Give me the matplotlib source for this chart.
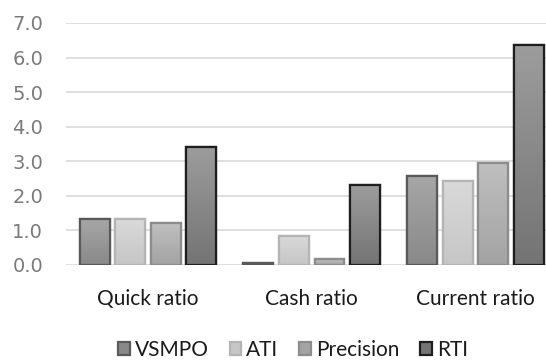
import matplotlib.pyplot as plt
import numpy as np
from matplotlib.colors import LinearSegmentedColormap

categories = ['Quick ratio', 'Cash ratio', 'Current ratio']
companies = ['VSMPO', 'ATI', 'Precision', 'RTI']
vsmpo = [1.33, 0.07, 2.57]
ati = [1.33, 0.85, 2.42]
precision = [1.21, 0.17, 2.94]
rti = [3.41, 2.31, 6.35]

# top / bottom shades of each bar, and the outline
tops = ['#a6a6a6', '#d9d9d9', '#bfbfbf', '#9c9c9c']
bottoms = ['#898989', '#c6c6c6', '#a3a3a3', '#747474']
edges = ['#5a5a5a', '#b4b4b4', '#8c8c8c', '#1e1e1e']

plt.rcParams['font.family'] = ['Lato', 'DejaVu Sans']

fig = plt.figure(figsize=(5.46, 3.6), dpi=100)
ax = fig.add_axes([66 / 546, 95 / 360, 480 / 546, 242 / 360])

x = np.arange(len(categories))
width = 0.183
step = 0.217
series = [vsmpo, ati, precision, rti]
grad = np.linspace(1, 0, 64).reshape(-1, 1)
for i, vals in enumerate(series):
    bars = ax.bar(x + (i - 1.5) * step, vals, width, color=bottoms[i],
                  edgecolor=edges[i], linewidth=1.6, label=companies[i], zorder=3)
    cmap = LinearSegmentedColormap.from_list('g%d' % i, [bottoms[i], tops[i]])
    for b in bars:
        bx, by = b.get_x(), b.get_y()
        im = ax.imshow(grad, cmap=cmap, aspect='auto', zorder=3.5,
                       extent=[bx, bx + b.get_width(), by, by + b.get_height()])
        im.set_clip_path(b)
        # redraw the outline over the gradient
        ax.bar(b.get_x() + b.get_width() / 2, b.get_height(), b.get_width(),
               fill=False, edgecolor=edges[i], linewidth=1.6, zorder=4)

ax.set_ylim(0, 7)
ax.set_xlim(-0.5, 2.43)
ax.set_yticks(np.arange(0, 7.1, 1))
ax.set_yticklabels(['%.1f' % v for v in np.arange(0, 7.1, 1)],
                   family='DejaVu Sans')
ax.set_xticks(x)
ax.set_xticklabels(categories)
ax.tick_params(axis='y', length=0, pad=16.5, labelsize=14, labelcolor='#7a7a7a')
ax.tick_params(axis='x', length=0, pad=17, labelsize=15, labelcolor='#1a1a1a')
ax.grid(axis='y', color='#d9d9d9', linewidth=1.2, zorder=0)
for s in ax.spines.values():
    s.set_visible(False)

fig.legend(loc='center', bbox_to_anchor=(293 / 546, 1 - 350 / 360), ncol=4,
           frameon=False, fontsize=15, handlelength=0.55, handleheight=0.55,
           handletextpad=0.25, columnspacing=1.0, labelcolor='#1a1a1a')

fig.savefig('out.png', dpi=100)
